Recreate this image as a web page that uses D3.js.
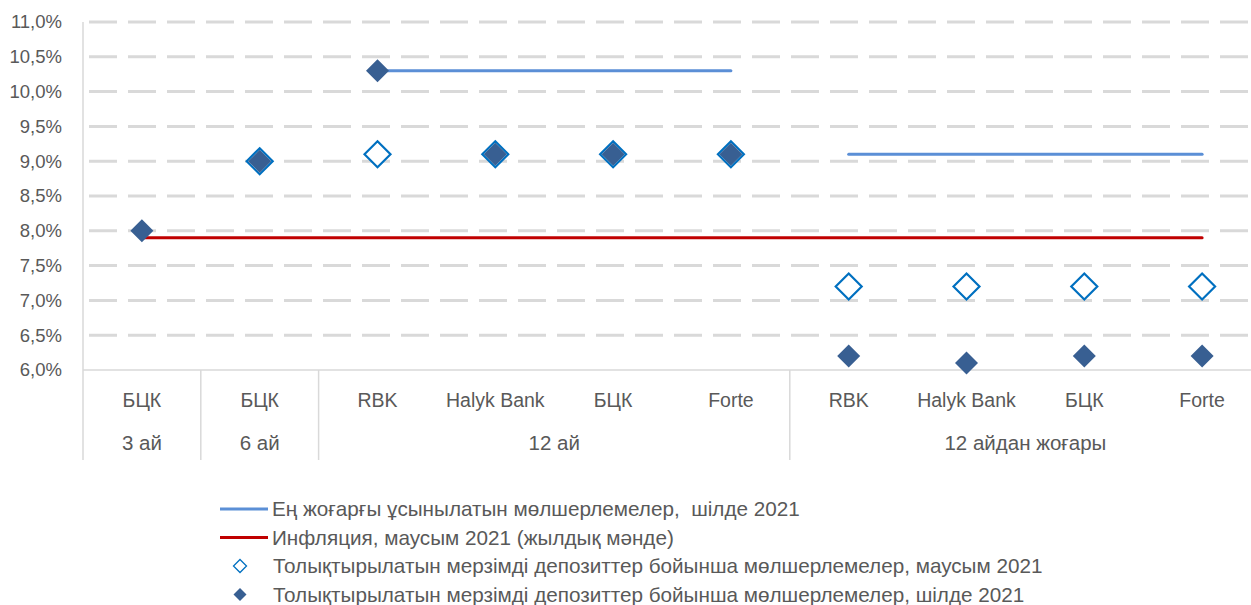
<!DOCTYPE html>
<html>
<head>
<meta charset="utf-8">
<script src="https://cdn.jsdelivr.net/npm/d3@7"></script>
<style>
    body { margin: 0; background: #fff; }
    text { font-family: "Liberation Sans", Arial, sans-serif; fill: #595959; }
    .grid line { stroke: #d9d9d9; stroke-width: 3; stroke-dasharray: 28 11; }
    .frame { stroke: #d9d9d9; stroke-width: 1.5; }
</style>
</head>
<body>
<svg id="chart" width="1251" height="605"></svg>
<script>
/* Deposit rates chart */

const banks   = ["БЦК", "БЦК", "RBK", "Halyk Bank", "БЦК", "Forte", "RBK", "Halyk Bank", "БЦК", "Forte"];
const groups  = [
    {label: "3 ай", from: 0, to: 0},
    {label: "6 ай", from: 1, to: 1},
    {label: "12 ай", from: 2, to: 5},
    {label: "12 айдан жоғары", from: 6, to: 9}
];
const juneRates = [null, 9.0, 9.1, 9.1, 9.1, 9.1, 7.2, 7.2, 7.2, 7.2];
const julyRates = [8.0, 9.0, 10.3, 9.1, 9.1, 9.1, 6.2, 6.1, 6.2, 6.2];
const maxRate   = [null, null, 10.3, 10.3, 10.3, 10.3, 9.1, 9.1, 9.1, 9.1];
const inflation = [7.9, 7.9, 7.9, 7.9, 7.9, 7.9, 7.9, 7.9, 7.9, 7.9];
const yTicks    = [6.0, 6.5, 7.0, 7.5, 8.0, 8.5, 9.0, 9.5, 10.0, 10.5, 11.0];

const legendItems = [
    {type: "line", color: "#5b8fd6", label: "Ең жоғарғы ұсынылатын мөлшерлемелер,  шілде 2021"},
    {type: "line", color: "#c00000", label: "Инфляция, маусым 2021 (жылдық мәнде)"},
    {type: "open", label: "Толықтырылатын мерзімді депозиттер бойынша мөлшерлемелер, маусым 2021"},
    {type: "filled", label: "Толықтырылатын мерзімді депозиттер бойынша мөлшерлемелер, шілде 2021"}
];

const svg = d3.select("#chart");
const idx = d3.range(banks.length);

const x = d3.scaleBand().domain(idx).range([83, 1261]);
const y = d3.scaleLinear().domain([6, 11]).range([370, 22]);
const cx = i => x(i) + x.bandwidth() / 2;
const fmt = v => d3.format(".1f")(v).replace(".", ",") + "%";

// gridlines
svg.append("g").attr("class", "grid")
    .selectAll("line")
    .data(yTicks.filter(d => d > 6)).enter()
    .append("line")
    .attr("x1", 89).attr("x2", 1251)
    .attr("y1", d => y(d)).attr("y2", d => y(d));

// y axis labels
const yAxis = d3.axisLeft(y).tickValues(yTicks).tickFormat(fmt).tickSize(0).tickPadding(21);
svg.append("g").attr("transform", "translate(83,0)").call(yAxis)
    .call(g => g.select(".domain").remove())
    .selectAll("text")
    .attr("font-family", null).attr("fill", null)
    .style("font-size", "18.5px");

// frame: axis lines and category separators
svg.append("line").attr("class", "frame")
    .attr("x1", 83).attr("x2", 1251).attr("y1", y(6)).attr("y2", y(6));
svg.append("line").attr("class", "frame")
    .attr("x1", 83).attr("x2", 83).attr("y1", y(11)).attr("y2", 460);

const seps = groups.slice(1).map(g => g.from);
svg.selectAll("line.sep")
    .data(seps).enter()
    .append("line").attr("class", "frame sep")
    .attr("x1", d => x(d)).attr("x2", d => x(d))
    .attr("y1", y(6)).attr("y2", 460);

// category labels
svg.selectAll("text.bank")
    .data(idx).enter()
    .append("text").attr("class", "bank")
    .attr("x", cx).attr("y", 407)
    .attr("text-anchor", "middle")
    .style("font-size", "19.5px")
    .text(i => banks[i]);

svg.selectAll("text.group")
    .data(groups).enter()
    .append("text").attr("class", "group")
    .attr("x", g => (cx(g.from) + cx(g.to)) / 2).attr("y", 450)
    .attr("text-anchor", "middle")
    .style("font-size", "20.5px")
    .text(g => g.label);

// lines
const line = d3.line()
    .defined(d => d.v != null)
    .x(d => cx(d.i)).y(d => y(d.v));

function segments(values) {
    // one run per group
    return groups.map(g => d3.range(g.from, g.to + 1).map(i => ({i: i, v: values[i]})))
        .filter(s => s.some(d => d.v != null));
}

svg.append("path")
    .datum(idx.map(i => ({i: i, v: inflation[i]})))
    .attr("d", line)
    .attr("fill", "none").attr("stroke", "#c00000").attr("stroke-width", 3)
    .attr("stroke-linecap", "round");

svg.selectAll("path.max")
    .data(segments(maxRate)).enter()
    .append("path").attr("class", "max")
    .attr("d", line)
    .attr("fill", "none").attr("stroke", "#5b8fd6").attr("stroke-width", 3)
    .attr("stroke-linecap", "round");

// markers
const diamond = r => `M0,${-r}L${r},0L0,${r}L${-r},0Z`;

svg.selectAll("path.june")
    .data(idx.filter(i => juneRates[i] != null)).enter()
    .append("path").attr("class", "june")
    .attr("transform", i => `translate(${cx(i)},${y(juneRates[i])})`)
    .attr("d", diamond(13))
    .attr("fill", "#fff").attr("stroke", "#0070c0").attr("stroke-width", 2.2);

svg.selectAll("path.july")
    .data(idx).enter()
    .append("path").attr("class", "july")
    .attr("transform", i => `translate(${cx(i)},${y(julyRates[i])})`)
    .attr("d", diamond(11.5))
    .attr("fill", "#385f92");

// legend
const legend = svg.append("g");
const rows = legend.selectAll("g")
    .data(legendItems).enter()
    .append("g")
    .attr("transform", (d, i) => `translate(0,${509 + i * 28.5})`);

rows.filter(d => d.type == "line").append("line")
    .attr("x1", 220).attr("x2", 268)
    .attr("stroke", d => d.color).attr("stroke-width", 3);
rows.filter(d => d.type == "open").append("path")
    .attr("transform", "translate(240,0)")
    .attr("d", diamond(6.5))
    .attr("fill", "#fff").attr("stroke", "#0070c0").attr("stroke-width", 1.3);
rows.filter(d => d.type == "filled").append("path")
    .attr("transform", "translate(240,0)")
    .attr("d", diamond(6.5))
    .attr("fill", "#385f92");

rows.append("text")
    .attr("x", d => d.type == "line" ? 272 : 273)
    .attr("dy", "0.35em")
    .style("font-size", "20.7px")
    .style("white-space", "pre")
    .text(d => d.label);
</script>
</body>
</html>
